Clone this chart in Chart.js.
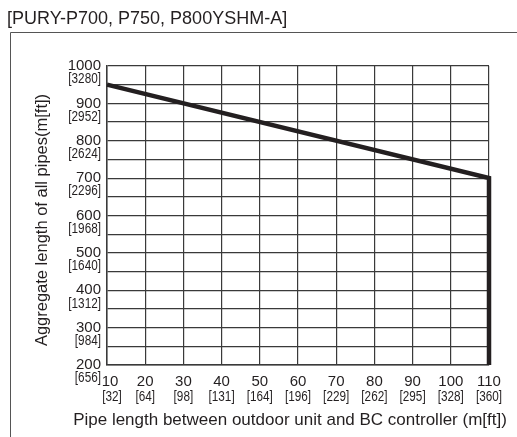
<!DOCTYPE html>
<html>
<head>
<meta charset="utf-8">
<script src="https://cdn.jsdelivr.net/npm/chart.js@4.4.0/dist/chart.umd.min.js"></script>
<style>
  body { margin: 0; background: #fff; }
  canvas { display: block; }
</style>
</head>
<body>
<canvas id="chart" width="517" height="437"></canvas>
<script>
// data
const pipeLength = [10, 110, 110];          // m
const aggregateLength = [950, 700, 200];    // m
const xTicks = [10, 20, 30, 40, 50, 60, 70, 80, 90, 100, 110];
const xTicksFt = ['[32]', '[64]', '[98]', '[131]', '[164]', '[196]', '[229]', '[262]', '[295]', '[328]', '[360]'];
const yTicks = [200, 300, 400, 500, 600, 700, 800, 900, 1000];
const yTicksFt = ['[656]', '[984]', '[1312]', '[1640]', '[1968]', '[2296]', '[2624]', '[2952]', '[3280]'];
const modelTitle = '[PURY-P700, P750, P800YSHM-A]';
const xTitle = 'Pipe length between outdoor unit and BC controller (m[ft])';
const yTitle = 'Aggregate length of all pipes(m[ft])';

const txt = '#231f20';
const sans = '"Liberation Sans", Arial, sans-serif';

// condensed bracket text (no narrow font here, so squeeze it)
function narrowText(ctx, s, x, y, align) {
  ctx.save();
  ctx.font = '14px ' + sans;
  ctx.textAlign = align;
  ctx.translate(x, y);
  ctx.scale(0.84, 1);
  ctx.fillText(s, 0, 0);
  ctx.restore();
}

// labels are drawn by hand so each tick gets the big number + small bracket line
const labelsPlugin = {
  id: 'labels',
  afterDraw(chart) {
    const ctx = chart.ctx;
    const xs = chart.scales.x, ys = chart.scales.y;
    ctx.save();

    // outer frame
    ctx.strokeStyle = '#555';
    ctx.lineWidth = 1;
    ctx.beginPath();
    ctx.moveTo(10.5, 437);
    ctx.lineTo(10.5, 32.5);
    ctx.lineTo(517, 32.5);
    ctx.stroke();

    ctx.fillStyle = txt;
    ctx.textBaseline = 'middle';

    ctx.font = '18px ' + sans;
    ctx.textAlign = 'left';
    ctx.fillText(modelTitle, 7, 19);

    // y ticks
    ctx.textAlign = 'right';
    yTicks.forEach((v, i) => {
      const y = ys.getPixelForValue(v);
      ctx.font = '15px ' + sans;
      ctx.fillText(String(v), 101, y);
      narrowText(ctx, yTicksFt[i], 101, y + 13.5, 'right');
    });

    // x ticks
    ctx.textAlign = 'center';
    xTicks.forEach((v, i) => {
      const x = xs.getPixelForValue(v) + (i === 0 ? 3 : 0);
      ctx.font = '15px ' + sans;
      ctx.fillText(String(v), x, chart.chartArea.bottom + 17);
      narrowText(ctx, xTicksFt[i], x + (i === 0 ? 2 : 0), chart.chartArea.bottom + 32, 'center');
    });

    // axis titles
    ctx.font = '17px ' + sans;
    ctx.fillText(xTitle, 290, 420);
    ctx.font = '16.5px ' + sans;
    ctx.translate(42, 220);
    ctx.rotate(-Math.PI / 2);
    ctx.fillText(yTitle, 0, 0);

    ctx.restore();
  }
};

new Chart(document.getElementById('chart'), {
  type: 'scatter',
  data: {
    datasets: [{
      data: pipeLength.map((x, i) => ({ x: x, y: aggregateLength[i] })),
      showLine: true,
      borderColor: '#231f20',
      borderWidth: 4.5,
      borderJoinStyle: 'miter',
      pointRadius: 0,
      clip: false
    }]
  },
  options: {
    responsive: false,
    animation: false,
    layout: { padding: { left: 107, top: 66, right: 28, bottom: 72 } },
    plugins: { legend: { display: false }, tooltip: { enabled: false } },
    scales: {
      x: {
        type: 'linear',
        min: 10, max: 110,
        ticks: { display: false, stepSize: 10 },
        grid: { color: '#3a3a3a', lineWidth: 1.2, drawTicks: false },
        border: { color: '#3a3a3a', width: 1.5 }
      },
      y: {
        min: 200, max: 1000,
        ticks: { display: false, stepSize: 50 },
        grid: { color: '#3a3a3a', lineWidth: 1.2, drawTicks: false },
        border: { color: '#3a3a3a', width: 1.5 }
      }
    }
  },
  plugins: [labelsPlugin]
});
</script>
</body>
</html>
